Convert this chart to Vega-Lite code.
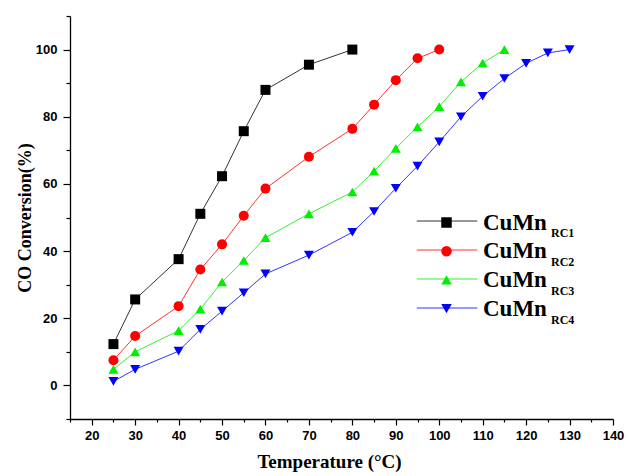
{
  "$schema": "https://vega.github.io/schema/vega-lite/v6.json",
  "width": 543,
  "height": 403,
  "autosize": {"type": "none"},
  "padding": {"left": 70, "top": 16, "right": 16, "bottom": 57},
  "background": "white",
  "config": {
    "view": {"stroke": null},
    "axis": {
      "grid": false,
      "domainColor": "#000000",
      "domainWidth": 1.3,
      "tickColor": "#000000",
      "tickWidth": 1.2,
      "labelColor": "#000000",
      "labelFont": "Liberation Sans",
      "labelFontWeight": "bold",
      "labelFontSize": 13,
      "titleColor": "#000000",
      "titleFont": "Liberation Serif",
      "titleFontWeight": "bold"
    },
    "legend": {
      "title": null,
      "orient": "none",
      "padding": 0,
      "labelColor": "#000000",
      "labelLimit": 0,
      "labelFont": "Liberation Serif",
      "labelFontWeight": "bold"
    }
  },
  "data": {
    "values": [
      {"series": "CuMn_RC1", "sub": "RC1", "T": 25, "V": 12.3},
      {"series": "CuMn_RC1", "sub": "RC1", "T": 30, "V": 25.6},
      {"series": "CuMn_RC1", "sub": "RC1", "T": 40, "V": 37.6},
      {"series": "CuMn_RC1", "sub": "RC1", "T": 45, "V": 51.1},
      {"series": "CuMn_RC1", "sub": "RC1", "T": 50, "V": 62.3},
      {"series": "CuMn_RC1", "sub": "RC1", "T": 55, "V": 75.7},
      {"series": "CuMn_RC1", "sub": "RC1", "T": 60, "V": 88.0},
      {"series": "CuMn_RC1", "sub": "RC1", "T": 70, "V": 95.5},
      {"series": "CuMn_RC1", "sub": "RC1", "T": 80, "V": 100},
      {"series": "CuMn_RC2", "sub": "RC2", "T": 25, "V": 7.5},
      {"series": "CuMn_RC2", "sub": "RC2", "T": 30, "V": 14.7},
      {"series": "CuMn_RC2", "sub": "RC2", "T": 40, "V": 23.6},
      {"series": "CuMn_RC2", "sub": "RC2", "T": 45, "V": 34.5},
      {"series": "CuMn_RC2", "sub": "RC2", "T": 50, "V": 42.0},
      {"series": "CuMn_RC2", "sub": "RC2", "T": 55, "V": 50.5},
      {"series": "CuMn_RC2", "sub": "RC2", "T": 60, "V": 58.6},
      {"series": "CuMn_RC2", "sub": "RC2", "T": 70, "V": 68.1},
      {"series": "CuMn_RC2", "sub": "RC2", "T": 80, "V": 76.4},
      {"series": "CuMn_RC2", "sub": "RC2", "T": 85, "V": 83.6},
      {"series": "CuMn_RC2", "sub": "RC2", "T": 90, "V": 90.9},
      {"series": "CuMn_RC2", "sub": "RC2", "T": 95, "V": 97.4},
      {"series": "CuMn_RC2", "sub": "RC2", "T": 100, "V": 100},
      {"series": "CuMn_RC3", "sub": "RC3", "T": 25, "V": 4.8},
      {"series": "CuMn_RC3", "sub": "RC3", "T": 30, "V": 10.0},
      {"series": "CuMn_RC3", "sub": "RC3", "T": 40, "V": 16.3},
      {"series": "CuMn_RC3", "sub": "RC3", "T": 45, "V": 22.7},
      {"series": "CuMn_RC3", "sub": "RC3", "T": 50, "V": 30.8},
      {"series": "CuMn_RC3", "sub": "RC3", "T": 55, "V": 37.2},
      {"series": "CuMn_RC3", "sub": "RC3", "T": 60, "V": 44.0},
      {"series": "CuMn_RC3", "sub": "RC3", "T": 70, "V": 51.1},
      {"series": "CuMn_RC3", "sub": "RC3", "T": 80, "V": 57.6},
      {"series": "CuMn_RC3", "sub": "RC3", "T": 85, "V": 63.8},
      {"series": "CuMn_RC3", "sub": "RC3", "T": 90, "V": 70.6},
      {"series": "CuMn_RC3", "sub": "RC3", "T": 95, "V": 77.0},
      {"series": "CuMn_RC3", "sub": "RC3", "T": 100, "V": 83.0},
      {"series": "CuMn_RC3", "sub": "RC3", "T": 105, "V": 90.4},
      {"series": "CuMn_RC3", "sub": "RC3", "T": 110, "V": 96.0},
      {"series": "CuMn_RC3", "sub": "RC3", "T": 115, "V": 100},
      {"series": "CuMn_RC4", "sub": "RC4", "T": 25, "V": 1.2},
      {"series": "CuMn_RC4", "sub": "RC4", "T": 30, "V": 4.8},
      {"series": "CuMn_RC4", "sub": "RC4", "T": 40, "V": 10.2},
      {"series": "CuMn_RC4", "sub": "RC4", "T": 45, "V": 16.7},
      {"series": "CuMn_RC4", "sub": "RC4", "T": 50, "V": 22.1},
      {"series": "CuMn_RC4", "sub": "RC4", "T": 55, "V": 27.6},
      {"series": "CuMn_RC4", "sub": "RC4", "T": 60, "V": 33.2},
      {"series": "CuMn_RC4", "sub": "RC4", "T": 70, "V": 38.8},
      {"series": "CuMn_RC4", "sub": "RC4", "T": 80, "V": 45.6},
      {"series": "CuMn_RC4", "sub": "RC4", "T": 85, "V": 51.8},
      {"series": "CuMn_RC4", "sub": "RC4", "T": 90, "V": 58.7},
      {"series": "CuMn_RC4", "sub": "RC4", "T": 95, "V": 65.3},
      {"series": "CuMn_RC4", "sub": "RC4", "T": 100, "V": 72.5},
      {"series": "CuMn_RC4", "sub": "RC4", "T": 105, "V": 80.0},
      {"series": "CuMn_RC4", "sub": "RC4", "T": 110, "V": 86.1},
      {"series": "CuMn_RC4", "sub": "RC4", "T": 115, "V": 91.4},
      {"series": "CuMn_RC4", "sub": "RC4", "T": 120, "V": 95.9},
      {"series": "CuMn_RC4", "sub": "RC4", "T": 125, "V": 99.0},
      {"series": "CuMn_RC4", "sub": "RC4", "T": 130, "V": 100}
    ]
  },
  "encoding": {
    "x": {
      "field": "T",
      "type": "quantitative",
      "scale": {"domain": [15, 140], "nice": false, "zero": false},
      "axis": {
        "title": "Temperature (°C)",
        "titleFontSize": 19,
        "titlePadding": 10,
        "titleX": 259,
        "titleAlign": "center",
        "values": [15, 20, 25, 30, 35, 40, 45, 50, 55, 60, 65, 70, 75, 80, 85, 90, 95, 100, 105, 110, 115, 120, 125, 130, 135, 140],
        "labelExpr": "datum.value % 10 === 0 ? datum.label : ''",
        "tickSize": {"condition": {"test": "datum.value % 10 === 0", "value": 6}, "value": 3},
        "labelPadding": 4,
        "labelFlush": false,
        "labelOverlap": false
      }
    },
    "y": {
      "field": "V",
      "type": "quantitative",
      "scale": {"domain": [-10, 110], "nice": false, "zero": false},
      "axis": {
        "title": "CO Conversion(%)",
        "titleFontSize": 18,
        "titlePadding": 1,
        "values": [-10, 0, 10, 20, 30, 40, 50, 60, 70, 80, 90, 100, 110],
        "labelExpr": "datum.value % 20 === 0 ? datum.label : ''",
        "tickSize": {"condition": {"test": "datum.value % 20 === 0", "value": 7}, "value": 4},
        "labelPadding": 6,
        "labelFlush": false,
        "labelOverlap": false
      }
    }
  },
  "layer": [
    {
      "mark": {"type": "line", "strokeWidth": 1, "opacity": 0.8},
      "encoding": {
        "stroke": {
          "field": "series",
          "type": "nominal",
          "scale": {"domain": ["CuMn_RC4", "CuMn_RC3", "CuMn_RC2", "CuMn_RC1"], "range": ["#0000ff", "#00ee00", "#ff0000", "#000000"]},
          "legend": {
            "values": ["CuMn_RC1", "CuMn_RC2", "CuMn_RC3", "CuMn_RC4"],
            "legendX": 340,
            "legendY": 199,
            "rowPadding": 17,
            "symbolType": "M-5.5,0H5.5",
            "symbolSize": 121,
            "symbolStrokeWidth": 1,
            "symbolFillColor": "transparent",
            "symbolOffset": 31,
            "labelOffset": 0,
            "labelFontSize": 12,
            "labelOpacity": 0,
            "labelExpr": "''"
          }
        }
      }
    },
    {
      "mark": {"type": "point", "filled": true, "size": 100, "opacity": 1},
      "encoding": {
        "color": {
          "field": "series",
          "type": "nominal",
          "scale": {"domain": ["CuMn_RC1", "CuMn_RC2", "CuMn_RC3", "CuMn_RC4"], "range": ["#000000", "#ff0000", "#00ee00", "#0000ff"]},
          "legend": {
            "legendX": 340,
            "legendY": 195,
            "rowPadding": 4.7,
            "symbolSize": 110,
            "symbolOffset": 25,
            "labelOffset": 25,
            "labelFontSize": 23,
            "labelExpr": "'CuMn'"
          }
        },
        "shape": {
          "field": "series",
          "type": "nominal",
          "scale": {"domain": ["CuMn_RC1", "CuMn_RC2", "CuMn_RC3", "CuMn_RC4"], "range": ["square", "circle", "triangle-up", "triangle-down"]},
          "legend": {
            "legendX": 340,
            "legendY": 195,
            "rowPadding": 4.7,
            "symbolSize": 110,
            "symbolOffset": 25,
            "labelOffset": 25,
            "labelFontSize": 23,
            "labelExpr": "'CuMn'"
          }
        },
        "opacity": {
          "field": "sub",
          "type": "nominal",
          "scale": {"type": "ordinal", "domain": ["RC1", "RC2", "RC3", "RC4"], "range": [1, 1, 1, 1]},
          "legend": {
            "legendX": 469,
            "legendY": 211,
            "rowPadding": 17,
            "symbolSize": 0,
            "symbolStrokeWidth": 0,
            "symbolOffset": 0,
            "labelOffset": 0,
            "labelFontSize": 12,
            "symbolOpacity": 0
          }
        }
      }
    }
  ]
}
